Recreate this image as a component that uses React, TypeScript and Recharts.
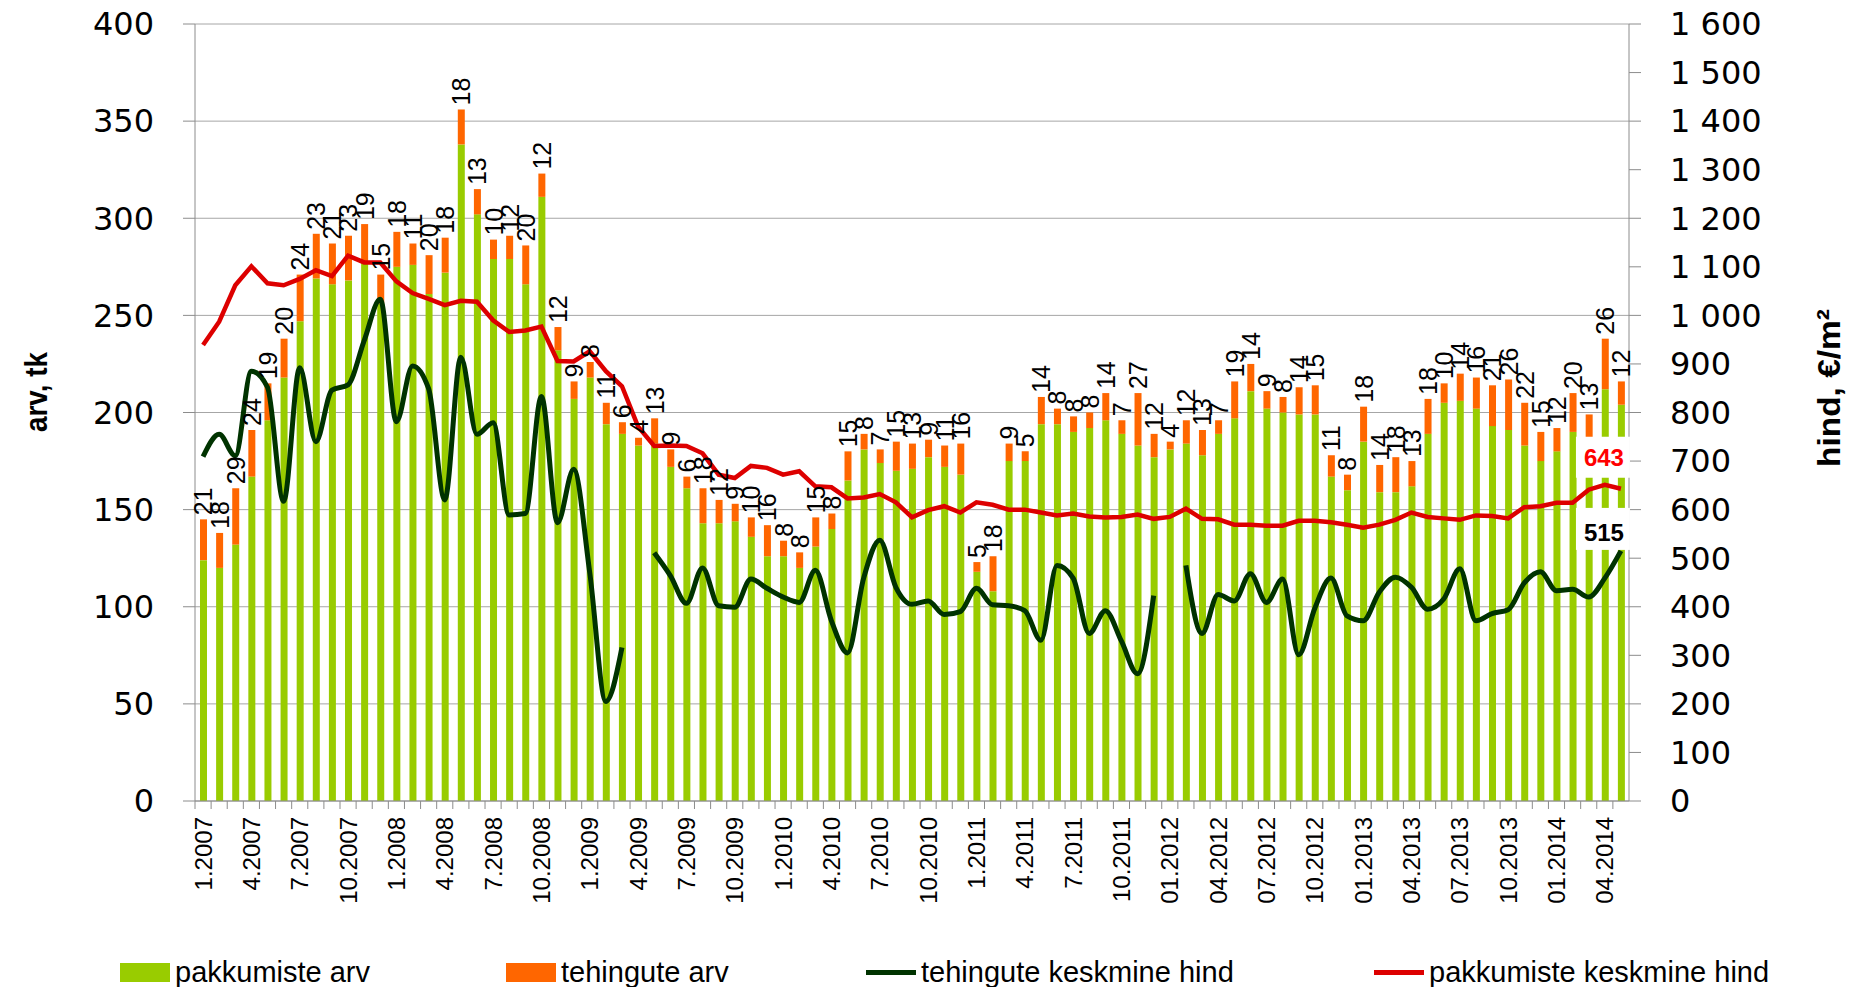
import React from 'react'
import {
  ComposedChart,
  Bar,
  Line,
  XAxis,
  YAxis,
  CartesianGrid,
  Legend,
  LabelList,
} from 'recharts'

// kuud 1.2007 ... 05.2014
const kuud = [
  '1.2007', '2.2007', '3.2007', '4.2007', '5.2007', '6.2007', '7.2007', '8.2007', '9.2007', '10.2007', '11.2007', '12.2007',
  '1.2008', '2.2008', '3.2008', '4.2008', '5.2008', '6.2008', '7.2008', '8.2008', '9.2008', '10.2008', '11.2008', '12.2008',
  '1.2009', '2.2009', '3.2009', '4.2009', '5.2009', '6.2009', '7.2009', '8.2009', '9.2009', '10.2009', '11.2009', '12.2009',
  '1.2010', '2.2010', '3.2010', '4.2010', '5.2010', '6.2010', '7.2010', '8.2010', '9.2010', '10.2010', '11.2010', '12.2010',
  '1.2011', '2.2011', '3.2011', '4.2011', '5.2011', '6.2011', '7.2011', '8.2011', '9.2011', '10.2011', '11.2011', '12.2011',
  '01.2012', '02.2012', '03.2012', '04.2012', '05.2012', '06.2012', '07.2012', '08.2012', '09.2012', '10.2012', '11.2012', '12.2012',
  '01.2013', '02.2013', '03.2013', '04.2013', '05.2013', '06.2013', '07.2013', '08.2013', '09.2013', '10.2013', '11.2013', '12.2013',
  '01.2014', '02.2014', '03.2014', '04.2014', '05.2014',
]

const pakkumisteArv = [
  124, 120, 132, 167, 196, 218, 247, 269, 266, 268, 278, 256,
  275, 276, 261, 272, 338, 302, 279, 279, 266, 311, 232, 207,
  218, 194, 189, 183, 184, 172, 161, 143, 143, 144, 136, 126,
  126, 120, 131, 140, 165, 181, 174, 170, 171, 177, 172, 168,
  118, 108, 175, 175, 194, 194, 190, 192, 196, 189, 183, 177,
  181, 184, 178, 189, 197, 211, 202, 200, 199, 199, 167, 160,
  185, 159, 159, 162, 189, 205, 206, 202, 193, 191, 183, 175,
  180, 190, 186, 212, 204,
]

const tehinguteArv = [
  21, 18, 29, 24, 19, 20, 24, 23, 21, 23, 19, 15,
  18, 11, 20, 18, 18, 13, 10, 12, 20, 12, 12, 9,
  8, 11, 6, 4, 13, 9, 6, 18, 12, 9, 10, 16,
  8, 8, 15, 8, 15, 8, 7, 15, 13, 9, 11, 16,
  5, 18, 9, 5, 14, 8, 8, 8, 14, 7, 27, 12,
  4, 12, 13, 7, 19, 14, 9, 8, 14, 15, 11, 8,
  18, 14, 18, 13, 18, 10, 14, 16, 21, 26, 22, 15,
  12, 20, 13, 26, 12,
]

const tehinguteHind = [
  709, 755, 711, 885, 852, 617, 892, 740, 846, 857, 948, 1033,
  781, 896, 849, 620, 914, 755, 779, 589, 592, 833, 573, 683,
  470, 205, 316, null, 511, 464, 407, 480, 402, 399, 457, 438,
  420, 409, 475, 371, 305, 459, 537, 440, 405, 412, 384, 390,
  438, 404, 402, 392, 331, 485, 459, 345, 392, 329, 262, 423,
  null, 485, 345, 425, 412, 468, 409, 457, 301, 397, 459, 381,
  371, 430, 461, 440, 395, 416, 478, 371, 386, 394, 449, 472,
  433, 436, 420, 459, 515,
]

const pakkumisteHind = [
  939, 987, 1062, 1101, 1066, 1062, 1075, 1093, 1081, 1123, 1109, 1109,
  1070, 1046, 1034, 1021, 1030, 1028, 990, 966, 969, 977, 906, 905,
  926, 885, 854, 771, 731, 732, 731, 716, 672, 665, 690, 686,
  672, 679, 648, 646, 623, 625, 632, 615, 584, 599, 607, 594,
  615, 610, 600, 600, 594, 588, 592, 586, 584, 585, 590, 581,
  585, 602, 581, 580, 569, 569, 567, 567, 577, 577, 574, 569,
  563, 569, 579, 594, 585, 582, 579, 588, 587, 582, 605, 607,
  614, 614, 641, 651, 643,
]

const vasakTicks = [0, 50, 100, 150, 200, 250, 300, 350, 400]
const paremTicks = [0, 100, 200, 300, 400, 500, 600, 700, 800, 900, 1000, 1100, 1200, 1300, 1400, 1500, 1600]

const ROHELINE = '#99cc00'
const ORANZ = '#ff6600'
const TUMEROHELINE = '#003300'
const PUNANE = '#dd0000'
const HALL = '#8c8c8c'

const data = kuud.map((kuu, i) => ({
  kuu,
  pak: pakkumisteArv[i],
  teh: tehinguteArv[i],
  tehHind: tehinguteHind[i],
  pakHind: pakkumisteHind[i],
}))

const tuhanded = (v: number) =>
  v >= 1000 ? `${Math.floor(v / 1000)} ${String(v % 1000).padStart(3, '0')}` : String(v)

function KuuTick(props: any) {
  const { x, y, payload, index } = props
  const pool = payload?.offset ?? 8
  return (
    <g>
      <line x1={x - pool} x2={x - pool} y1={y} y2={y + 8} stroke={HALL} />
      {index % 3 === 0 && (
        <text
          x={x}
          y={y + 16}
          transform={`rotate(-90, ${x}, ${y + 16})`}
          textAnchor="end"
          dy="0.36em"
          fontSize={24}
          fontFamily="'Liberation Sans', Arial, sans-serif"
          fill="#000"
        >
          {payload.value}
        </text>
      )}
    </g>
  )
}

function TehinguSilt(props: any) {
  const { x, y, width, value } = props
  const cx = x + width / 2
  const ty = y - 4
  return (
    <text
      x={cx}
      y={ty}
      transform={`rotate(-90, ${cx}, ${ty})`}
      dy="0.36em"
      textAnchor="start"
      fontSize={25}
      fontFamily="'Liberation Sans', Arial, sans-serif"
      fill="#000"
    >
      {value}
    </text>
  )
}

function viimaneSilt(color: string, boxTop: number, boxH: number, textDy: number) {
  return (props: any) => {
    const { x, y, index, value } = props
    if (index !== kuud.length - 1) return null
    return (
      <g>
        <rect x={x - 45} y={y + boxTop} width={54} height={boxH} fill="#fff" />
        <text
          x={x - 17}
          y={y + textDy}
          textAnchor="middle"
          dominantBaseline="central"
          fontWeight="bold"
          fontSize={24}
          fontFamily="'Liberation Sans', Arial, sans-serif"
          fill={color}
        >
          {value}
        </text>
      </g>
    )
  }
}

const legendiRead = [
  { nimi: 'pakkumiste arv', color: ROHELINE, line: false, left: 120 },
  { nimi: 'tehingute arv', color: ORANZ, line: false, left: 506 },
  { nimi: 'tehingute keskmine hind', color: TUMEROHELINE, line: true, left: 866 },
  { nimi: 'pakkumiste keskmine hind', color: PUNANE, line: true, left: 1374 },
]

function Legendid() {
  return (
    <div style={{ position: 'relative', width: 1858, height: 100 }}>
      {legendiRead.map((r) => (
        <div
          key={r.nimi}
          style={{ position: 'absolute', left: r.left, top: 70, height: 30, display: 'flex', alignItems: 'center' }}
        >
          <span
            style={{
              display: 'inline-block',
              width: 50,
              height: r.line ? 5 : 19,
              background: r.color,
              marginRight: 5,
            }}
          />
          <span
            style={{
              fontFamily: "'Liberation Sans', Arial, sans-serif",
              fontSize: 29,
              color: '#000',
              lineHeight: '30px',
            }}
          >
            {r.nimi}
          </span>
        </div>
      ))}
    </div>
  )
}

export default function App() {
  return (
    <div style={{ position: 'absolute', left: 0, top: 0, width: 1858, height: 987, background: '#fff' }}>
      <ComposedChart
        width={1858}
        height={987}
        data={data}
        margin={{ top: 24, right: 0, bottom: 0, left: 0 }}
      >
        <CartesianGrid yAxisId="left" vertical={false} stroke="#a6a6a6" />
        <XAxis
          dataKey="kuu"
          interval={0}
          height={86}
          tickSize={0}
          tickMargin={0}
          tickLine={false}
          axisLine={{ stroke: HALL }}
          tick={<KuuTick />}
        />
        <YAxis
          yAxisId="left"
          width={195}
          domain={[0, 400]}
          ticks={vasakTicks}
          tickSize={12}
          tickMargin={29}
          tickLine={{ stroke: HALL }}
          axisLine={{ stroke: HALL }}
          tick={{ fontSize: 32, fill: '#000', fontFamily: "'DejaVu Sans', sans-serif" }}
        />
        <YAxis
          yAxisId="right"
          orientation="right"
          width={229}
          domain={[0, 1600]}
          ticks={paremTicks}
          tickFormatter={tuhanded}
          tickSize={12}
          tickMargin={29}
          tickLine={{ stroke: HALL }}
          axisLine={{ stroke: HALL }}
          tick={{ fontSize: 32, fill: '#000', fontFamily: "'DejaVu Sans', sans-serif" }}
        />
        <Legend
          verticalAlign="bottom"
          wrapperStyle={{ left: 0, bottom: 0, width: 1858, height: 100 }}
          content={<Legendid />}
        />
        <Bar yAxisId="left" dataKey="pak" name="pakkumiste arv" stackId="a" fill={ROHELINE} barSize={7} isAnimationActive={false} />
        <Bar yAxisId="left" dataKey="teh" name="tehingute arv" stackId="a" fill={ORANZ} barSize={7} isAnimationActive={false}>
          <LabelList dataKey="teh" content={TehinguSilt} />
        </Bar>
        <Line
          yAxisId="right"
          dataKey="tehHind"
          name="tehingute keskmine hind"
          type="monotone"
          stroke={TUMEROHELINE}
          strokeWidth={5}
          dot={false}
          connectNulls={false}
          isAnimationActive={false}
        >
          <LabelList dataKey="tehHind" content={viimaneSilt('#000', -43, 42, -18)} />
        </Line>
        <Line
          yAxisId="right"
          dataKey="pakHind"
          name="pakkumiste keskmine hind"
          type="linear"
          stroke={PUNANE}
          strokeWidth={4.5}
          dot={false}
          isAnimationActive={false}
        >
          <LabelList dataKey="pakHind" content={viimaneSilt('#ff0000', -52, 41, -31)} />
        </Line>
      </ComposedChart>
      <svg
        width={1858}
        height={987}
        style={{ position: 'absolute', left: 0, top: 0, pointerEvents: 'none' }}
      >
        <text
          x={36}
          y={392}
          transform="rotate(-90, 36, 392)"
          textAnchor="middle"
          dominantBaseline="central"
          fontWeight="bold"
          fontSize={32}
          fontFamily="'Liberation Sans Narrow', 'Liberation Sans', Arial, sans-serif"
          textLength={80}
          lengthAdjust="spacingAndGlyphs"
        >
          arv, tk
        </text>
        <text
          x={1829}
          y={388}
          transform="rotate(-90, 1829, 388)"
          textAnchor="middle"
          dominantBaseline="central"
          fontWeight="bold"
          fontSize={32}
          fontFamily="'Liberation Sans Narrow', 'Liberation Sans', Arial, sans-serif"
          textLength={158}
          lengthAdjust="spacingAndGlyphs"
        >
          hind, €/m²
        </text>
      </svg>
    </div>
  )
}
